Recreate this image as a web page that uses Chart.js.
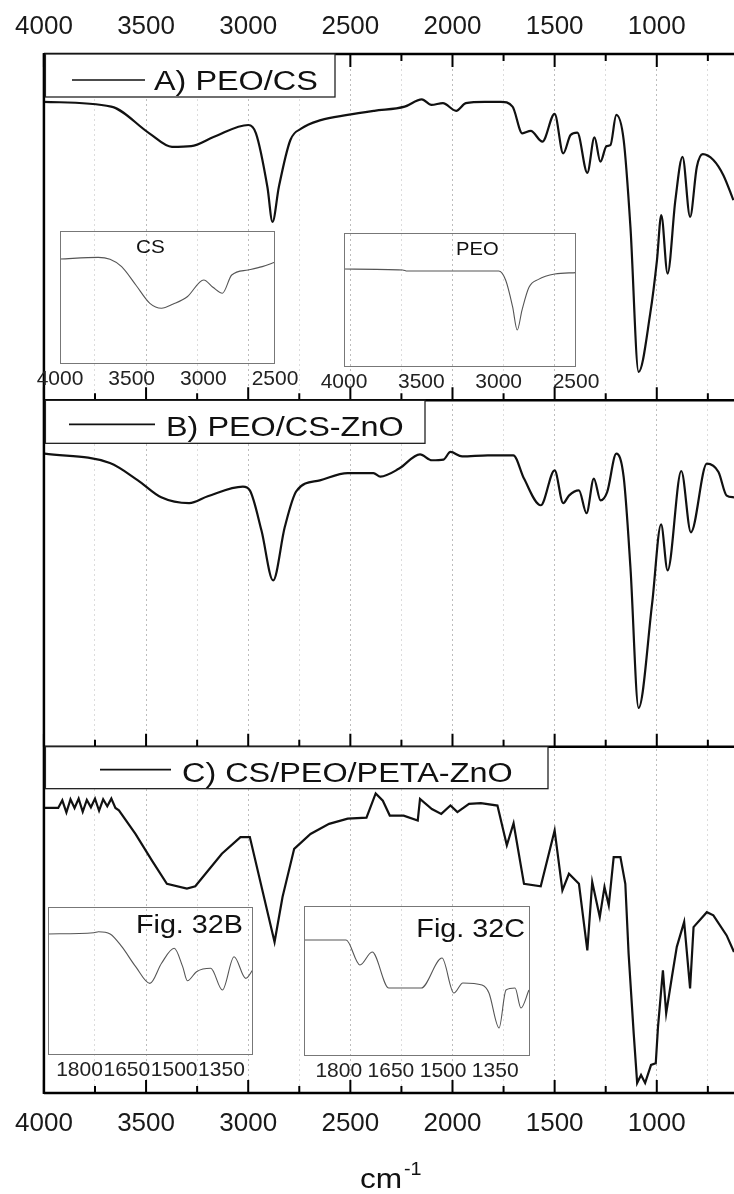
<!DOCTYPE html>
<html>
<head>
<meta charset="utf-8">
<script src="https://cdn.jsdelivr.net/npm/chart.js@4.4.0/dist/chart.umd.min.js"></script>
<style>
  html, body { margin: 0; padding: 0; background: #fff; overflow: hidden; }
  #wrap { position: relative; width: 734px; height: 1194px; }
  #wrap canvas { position: absolute; }
</style>
</head>
<body>
<div id="wrap">
  <canvas id="main" width="734" height="1194" style="left:0;top:0"></canvas>
  <canvas id="insCS"></canvas>
  <canvas id="insPEO"></canvas>
  <canvas id="ins32B"></canvas>
  <canvas id="ins32C"></canvas>
</div>
<script>
// ticks of the shared wavenumber axis (cm-1)
const majorTicks = [4000, 3500, 3000, 2500, 2000, 1500, 1000];
const minorTicks = [3750, 3250, 2750, 2250, 1750, 1250, 750];
const allTicks = [...majorTicks, ...minorTicks].sort((a, b) => b - a);

// A) PEO/CS
const wnA = [4000, 3671, 3484, 3373, 3279, 3167, 2999, 2962, 2906, 2881, 2850, 2794, 2739, 2645, 2514, 2383, 2234, 2150, 2103, 2047, 1982, 1935, 1842, 1763, 1706, 1658, 1617, 1560, 1500, 1458, 1422, 1389, 1340, 1305, 1276, 1246, 1227, 1198, 1162, 1129, 1089, 1032, 999, 978, 947, 909, 874, 837, 804, 775, 723, 674, 625];
const tA = [86.2, 84.8, 77.1, 73.2, 73.4, 76.1, 79.5, 77.1, 61.6, 51.5, 61.6, 75.1, 78.5, 80.9, 82.4, 83.6, 84.8, 86.9, 85.3, 85.8, 83.6, 85.8, 86.2, 86.2, 84.8, 77.1, 77.8, 74.7, 82.7, 71.3, 76.6, 77.3, 65.7, 75.9, 68.9, 73.4, 73.7, 82.4, 75.1, 50.1, 8.2, 25.1, 40.5, 53.5, 36.6, 57.8, 70.3, 53.0, 67.4, 71.1, 69.4, 65.0, 57.8];

// B) PEO/CS-ZnO
const wnB = [3997, 3677, 3540, 3426, 3289, 3198, 3026, 2992, 2935, 2878, 2821, 2764, 2649, 2513, 2387, 2353, 2261, 2159, 2101, 2044, 2010, 1953, 1827, 1702, 1650, 1568, 1500, 1458, 1430, 1381, 1344, 1308, 1275, 1243, 1198, 1162, 1129, 1089, 1023, 979, 947, 880, 833, 755, 698, 658, 622];
const tB = [84.6, 81.9, 76.9, 72.0, 70.3, 72.3, 75.1, 74.0, 62.4, 48.0, 63.4, 73.8, 76.9, 79.0, 79.0, 78.0, 80.3, 84.4, 82.7, 82.9, 85.1, 83.8, 84.1, 84.1, 77.4, 69.7, 79.8, 70.3, 72.5, 74.0, 67.4, 77.4, 71.1, 73.5, 84.6, 77.8, 51.8, 11.2, 41.2, 64.2, 50.9, 79.6, 61.9, 81.7, 79.3, 72.5, 72.0];

// C) CS/PEO/PETA-ZnO
const wnC = [3999, 3930, 3910, 3890, 3870, 3850, 3830, 3810, 3790, 3770, 3750, 3730, 3710, 3690, 3670, 3650, 3633, 3552, 3471, 3398, 3300, 3259, 3129, 3038, 2992, 2871, 2832, 2775, 2695, 2604, 2513, 2421, 2376, 2341, 2307, 2239, 2170, 2159, 2101, 2055, 2010, 1976, 1919, 1861, 1780, 1734, 1701, 1650, 1568, 1500, 1462, 1430, 1381, 1340, 1316, 1279, 1256, 1235, 1211, 1178, 1154, 1138, 1113, 1096, 1077, 1057, 1028, 1005, 994, 970, 954, 926, 902, 866, 837, 820, 755, 723, 658, 622];
const tC = [82.3, 82.3, 84.5, 81.0, 84.8, 82.3, 85.0, 81.2, 84.6, 82.5, 85.0, 81.5, 84.8, 82.8, 85.0, 82.3, 81.6, 74.8, 67.1, 60.4, 59.0, 59.7, 69.1, 73.9, 73.9, 43.6, 56.6, 70.5, 74.8, 77.7, 79.2, 79.5, 86.5, 84.4, 80.1, 80.1, 78.7, 84.9, 82.0, 80.6, 83.0, 81.1, 83.5, 83.7, 83.0, 71.5, 77.9, 60.4, 59.7, 75.8, 58.5, 63.3, 60.4, 41.2, 60.9, 50.8, 59.5, 54.2, 68.1, 68.1, 60.4, 40.3, 17.2, 2.9, 5.2, 2.9, 8.1, 8.6, 19.1, 35.4, 23.0, 33.5, 42.2, 49.4, 30.2, 47.9, 52.2, 51.3, 45.5, 40.7];

// insets
const wnCS = [4000, 3733, 3651, 3570, 3471, 3373, 3292, 3210, 3112, 2997, 2933, 2867, 2802, 2688, 2589, 2500];
const tCS = [78.9, 80.2, 78.7, 73.2, 59.4, 45.6, 41.9, 45.1, 50.6, 63.2, 57.7, 53.2, 66.9, 70.7, 73.2, 76.5];
const wnPEO = [4000, 3621, 3591, 3000, 2955, 2910, 2880, 2849, 2804, 2743, 2637, 2501];
const tPEO = [73.1, 72.4, 71.6, 71.6, 64.9, 45.0, 27.6, 42.5, 59.5, 65.4, 69.4, 70.4];
const wn32B = [1900, 1755, 1740, 1703, 1666, 1622, 1577, 1540, 1500, 1473, 1458, 1429, 1384, 1347, 1310, 1273, 1251];
const t32B = [81.8, 82.6, 83.3, 81.8, 73.2, 59.7, 48.4, 62.0, 72.1, 59.7, 50.2, 56.3, 58.6, 43.9, 66.4, 51.8, 57.4];
const wn32C = [1900, 1779, 1739, 1704, 1656, 1563, 1503, 1469, 1443, 1388, 1368, 1339, 1319, 1293, 1276, 1253];
const t32C = [77.3, 77.3, 60.7, 69.3, 45.3, 45.3, 65.3, 42.0, 48.7, 47.3, 42.0, 18.7, 44.0, 45.3, 32.0, 44.0];
const insetTicksWide = [4000, 3500, 3000, 2500];
const insetTicksNarrow = [1800, 1650, 1500, 1350];

const FONT = "'Liberation Sans', Arial, sans-serif";

// each panel gets 100 units of the shared y axis
function toPoints(wn, t, offset) {
  return wn.map((w, i) => ({ x: w, y: t[i] + offset }));
}

// stretched text (the figure's lettering is wider than Arial)
function wideText(ctx, text, x, y, size, stretch, align) {
  ctx.save();
  ctx.font = size + "px " + FONT;
  ctx.fillStyle = "#111";
  ctx.textBaseline = "alphabetic";
  const w = ctx.measureText(text).width * stretch;
  ctx.translate(align === "right" ? x - w : x, y);
  ctx.scale(stretch, 1);
  ctx.fillText(text, 0, 0);
  ctx.restore();
}

const legends = [
  { text: "A) PEO/CS", panel: 300, right: 335, h: 43, line: [72, 145], lineDy: 26, textX: 154 },
  { text: "B) PEO/CS-ZnO", panel: 200, right: 425, h: 43, line: [69, 155], lineDy: 24, textX: 166 },
  { text: "C) CS/PEO/PETA-ZnO", panel: 100, right: 548, h: 42, line: [100, 171], lineDy: 23, textX: 182 },
];

const framePlugin = {
  id: "frame",
  afterDatasetsDraw(chart) {
    const { ctx, chartArea: a, scales } = chart;
    const x = scales.x, y = scales.y;
    const bounds = [300, 200, 100, 0].map(v => y.getPixelForValue(v));
    ctx.save();
    ctx.strokeStyle = "#000";
    ctx.lineWidth = 2.5;
    ctx.beginPath();
    ctx.moveTo(a.left, a.top - 1);
    ctx.lineTo(a.left, a.bottom + 1);
    bounds.forEach(b => { ctx.moveTo(a.left, b); ctx.lineTo(a.right, b); });
    ctx.stroke();

    // inward ticks
    ctx.lineWidth = 2;
    allTicks.forEach(v => {
      const px = x.getPixelForValue(v);
      const len = majorTicks.includes(v) ? 13 : 7;
      ctx.beginPath();
      ctx.moveTo(px, bounds[0]);
      ctx.lineTo(px, bounds[0] + len);
      for (let i = 1; i < bounds.length; i++) {
        ctx.moveTo(px, bounds[i]);
        ctx.lineTo(px, bounds[i] - len);
      }
      ctx.stroke();
    });

    // legend boxes
    legends.forEach(l => {
      const top = y.getPixelForValue(l.panel);
      const left = a.left + 1.5;
      ctx.fillStyle = "#fff";
      ctx.fillRect(left, top, l.right - left, l.h);
      ctx.lineWidth = 1.3;
      ctx.strokeStyle = "#222";
      ctx.strokeRect(left, top, l.right - left, l.h);
      ctx.lineWidth = 1.6;
      ctx.strokeStyle = "#111";
      ctx.beginPath();
      ctx.moveTo(l.line[0], top + l.lineDy);
      ctx.lineTo(l.line[1], top + l.lineDy);
      ctx.stroke();
      wideText(ctx, l.text, l.textX, top + 35.5, 27, 1.2, "left");
    });

    // axis title cm-1
    wideText(ctx, "cm", 360, 1188, 28, 1.13, "left");
    wideText(ctx, "-1", 404, 1175, 18, 1.1, "left");
    ctx.restore();
  }
};

const xAxisBase = {
  type: "linear",
  min: 622,
  max: 4000,
  reverse: true,
  afterBuildTicks: s => { s.ticks = allTicks.map(v => ({ value: v })); },
  ticks: {
    autoSkip: false,
    maxRotation: 0,
    minRotation: 0,
    color: "#1a1a1a",
    font: { family: FONT, size: 26 },
    callback: v => (majorTicks.includes(v) ? String(v) : "")
  },
  border: { display: false, dash: [2, 3] }
};

new Chart(document.getElementById("main"), {
  type: "line",
  data: {
    datasets: [
      { label: "A) PEO/CS", data: toPoints(wnA, tA, 200), borderColor: "#111", borderWidth: 2.2, pointRadius: 0, cubicInterpolationMode: "monotone" },
      { label: "B) PEO/CS-ZnO", data: toPoints(wnB, tB, 100), borderColor: "#111", borderWidth: 2.2, pointRadius: 0, cubicInterpolationMode: "monotone" },
      { label: "C) CS/PEO/PETA-ZnO", data: toPoints(wnC, tC, 0), borderColor: "#111", borderWidth: 2.2, pointRadius: 0, tension: 0 }
    ]
  },
  options: {
    responsive: false,
    animation: false,
    devicePixelRatio: 1,
    layout: { padding: { left: 42, right: 0, top: 0, bottom: 0 } },
    plugins: { legend: { display: false }, tooltip: { enabled: false } },
    scales: {
      x: {
        ...xAxisBase,
        position: "bottom",
        afterFit: s => { s.height = 101; },
        ticks: { ...xAxisBase.ticks, padding: 15 },
        grid: {
          drawTicks: false,
          lineWidth: 1,
          color: c => (c.tick && majorTicks.includes(c.tick.value) ? "#bdbdbd" : "#dcdcdc")
        }
      },
      x2: {
        ...xAxisBase,
        position: "top",
        afterFit: s => { s.height = 54; },
        ticks: { ...xAxisBase.ticks, padding: 12 },
        grid: { display: false, drawTicks: false }
      },
      y: { display: false, min: 0, max: 300 }
    }
  },
  plugins: [framePlugin]
});

// small inset spectra
function makeInset(id, box, wn, t, range, ticks, title) {
  const padX = 30, padB = 32;
  const cv = document.getElementById(id);
  cv.width = box.w + 2 * padX;
  cv.height = box.h + padB;
  cv.style.left = (box.x - padX) + "px";
  cv.style.top = box.y + "px";
  const boxPlugin = {
    id: "box" + id,
    afterDraw(chart) {
      const { ctx, chartArea: a } = chart;
      ctx.save();
      ctx.strokeStyle = "#777";
      ctx.lineWidth = 1;
      ctx.strokeRect(a.left + 0.5, a.top + 0.5, a.right - a.left - 1, a.bottom - a.top - 1);
      wideText(ctx, title.text, title.x - box.x + padX, title.y - box.y, title.size, title.stretch, title.align);
      ctx.restore();
    }
  };
  return new Chart(cv, {
    type: "line",
    data: {
      datasets: [{
        data: wn.map((w, i) => ({ x: w, y: t[i] })),
        borderColor: "#555",
        borderWidth: 1.1,
        pointRadius: 0,
        cubicInterpolationMode: "monotone"
      }]
    },
    options: {
      responsive: false,
      animation: false,
      devicePixelRatio: 1,
      layout: { padding: { left: padX, right: padX, top: 0, bottom: 0 } },
      plugins: { legend: { display: false }, tooltip: { enabled: false } },
      scales: {
        x: {
          type: "linear",
          min: range[0],
          max: range[1],
          reverse: true,
          afterBuildTicks: s => { s.ticks = ticks.map(v => ({ value: v })); },
          afterFit: s => { s.height = padB; },
          ticks: {
            autoSkip: false, maxRotation: 0, padding: 3, color: "#222",
            font: { family: FONT, size: 21 },
            callback: v => String(v)
          },
          grid: { display: false, drawTicks: false },
          border: { display: false }
        },
        y: { display: false, min: 0, max: 100 }
      }
    },
    plugins: [boxPlugin]
  });
}

makeInset("insCS", { x: 60, y: 231, w: 215, h: 133 }, wnCS, tCS, [2500, 4000], insetTicksWide,
  { text: "CS", x: 136, y: 252.5, size: 18, stretch: 1.15, align: "left" });
makeInset("insPEO", { x: 344, y: 233, w: 232, h: 134 }, wnPEO, tPEO, [2500, 4000], insetTicksWide,
  { text: "PEO", x: 456, y: 255, size: 18, stretch: 1.12, align: "left" });
makeInset("ins32B", { x: 48, y: 907, w: 205, h: 148 }, wn32B, t32B, [1250, 1900], insetTicksNarrow,
  { text: "Fig. 32B", x: 243, y: 933, size: 25, stretch: 1.15, align: "right" });
makeInset("ins32C", { x: 304, y: 906, w: 226, h: 150 }, wn32C, t32C, [1250, 1900], insetTicksNarrow,
  { text: "Fig. 32C", x: 525, y: 937, size: 25, stretch: 1.15, align: "right" });
</script>
</body>
</html>
